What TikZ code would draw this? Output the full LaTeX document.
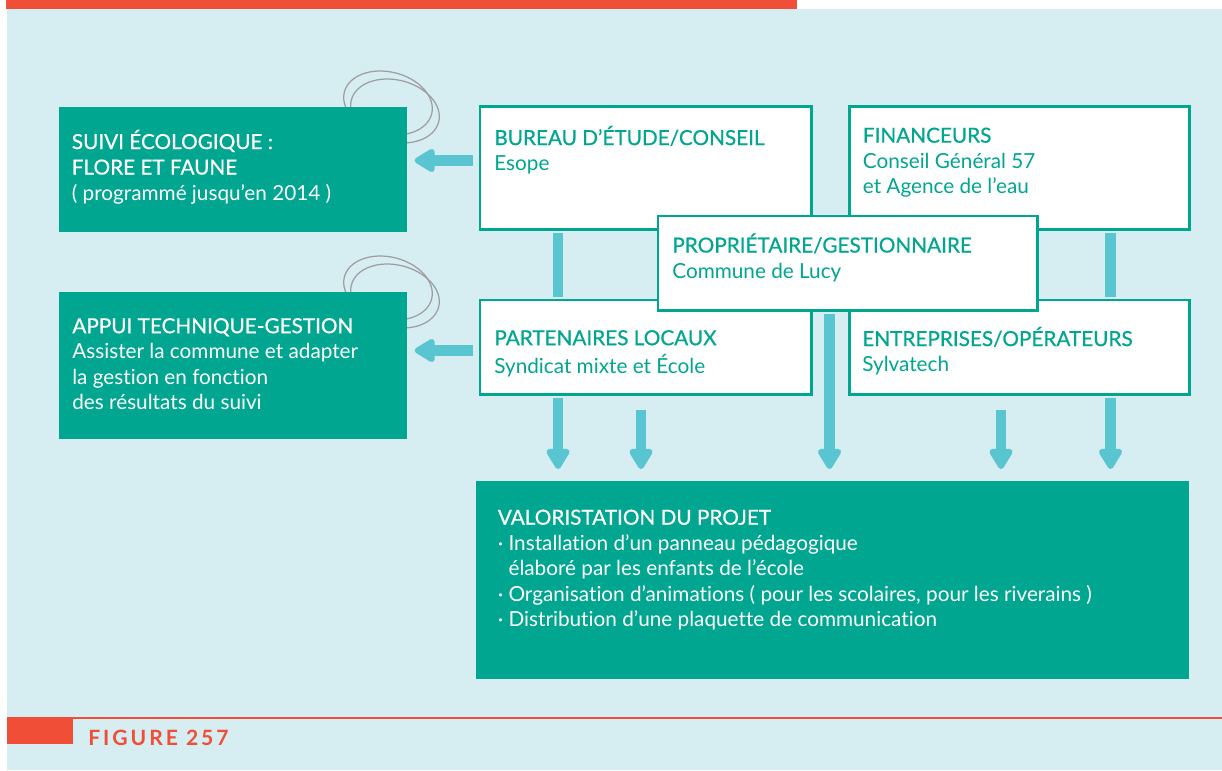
\documentclass[tikz,border=0pt]{standalone}
\usepackage{fontspec}
\setmainfont{Lato}[Ligatures={NoCommon}]
\newfontfamily\headfont{Lato}[FakeBold=0.6, Ligatures={NoCommon}]
\newfontfamily\figfont{Lato}[LetterSpace=14]
\usetikzlibrary{
    arrows.meta,
    positioning,
    calc
}
\definecolor{vert}{RGB}{0,166,143}
\definecolor{cyanf}{RGB}{88,197,208}
\definecolor{fond}{RGB}{214,237,242}
\definecolor{rouge}{RGB}{240,78,55}
\definecolor{gris}{RGB}{158,158,158}

\begin{document}
\begin{tikzpicture}[
    x=0.02cm, y=-0.02cm,
    greenbox/.style={rectangle, fill=vert, anchor=north west, inner sep=0},
    whitebox/.style={rectangle, draw=vert, line width=1.7pt, fill=white, anchor=north west, inner sep=0},
    txt/.style={anchor=north west, inner sep=0, align=left, text=vert, font=\fontsize{11.8}{14.5}\selectfont},
    wtxt/.style={txt, text=white},
    link/.style={draw=cyanf, line width=0.21cm},
    flow/.style={link, -{Triangle[length=0.46cm, width=0.52cm, round]}},
    spire/.style={draw=gris, line width=0.7pt}
]
\useasboundingbox (0,0) rectangle (1222,770);
\fill[white] (0,0) rectangle (1222,770);
\fill[fond] (7,9) rectangle (1222,770);
\fill[rouge] (6,0) rectangle (797,9);

% loops behind the green boxes
\foreach \dy in {0,185} {
    \draw[spire, rotate around={-14:(388,103+\dy)}] (388,103+\dy) ellipse [x radius=45, y radius=31];
    \draw[spire, rotate around={-14:(395,111+\dy)}] (395,111+\dy) ellipse [x radius=45, y radius=31];
}

% left column
\node[greenbox, minimum width=6.96cm, minimum height=2.5cm] (suivi) at (59,107) {};
\node[greenbox, minimum width=6.96cm, minimum height=2.94cm] (appui) at (59,292) {};

% actors
\node[whitebox, minimum width=6.64cm, minimum height=2.46cm] (bureau) at (478.5,105.5) {};
\node[whitebox, minimum width=6.82cm, minimum height=2.46cm] (finan) at (847.5,105.5) {};
\node[whitebox, minimum width=6.64cm, minimum height=1.9cm] (parten) at (478.5,298.5) {};
\node[whitebox, minimum width=6.82cm, minimum height=1.9cm] (entrep) at (847.5,298.5) {};
\node[whitebox, minimum width=7.6cm, minimum height=1.9cm] (proprio) at (656.5,214.5) {};

% result
\node[greenbox, minimum width=14.26cm, minimum height=3.96cm] (valo) at (476,481) {};

% columns of the connectors
\coordinate (c1) at (558,0);
\coordinate (c3) at (829.5,0);
\coordinate (c5) at (1110.5,0);
\coordinate (s2) at (641,410);
\coordinate (s4) at (1001,410);
\coordinate (g1) at (0,160.5);
\coordinate (g2) at (0,350.5);

% connectors
\draw[link, shorten <=0.85pt, shorten >=0.85pt] (bureau.south -| c1) -- (parten.north -| c1);
\draw[link, shorten <=0.85pt, shorten >=0.85pt] (finan.south -| c5) -- (entrep.north -| c5);
\draw[flow, shorten <=0.85pt, shorten >=0.24cm] (parten.south -| c1) -- (valo.north -| c1);
\draw[flow, shorten >=0.24cm] (s2) -- (valo.north -| s2);
\draw[flow, shorten <=0.85pt, shorten >=0.24cm] (proprio.south -| c3) -- (valo.north -| c3);
\draw[flow, shorten >=0.24cm] (s4) -- (valo.north -| s4);
\draw[flow, shorten <=0.85pt, shorten >=0.24cm] (entrep.south -| c5) -- (valo.north -| c5);
\draw[flow, shorten <=0.11cm, shorten >=0.14cm] (bureau.west |- g1) -- (suivi.east |- g1);
\draw[flow, shorten <=0.11cm, shorten >=0.14cm] (parten.west |- g2) -- (appui.east |- g2);

% texts
\node[wtxt] (suiviT) at ([shift={(12.5,22.5)}]suivi.north west)
    {\strut{\headfont SUIVI ÉCOLOGIQUE :}\\{\headfont FLORE ET FAUNE}\\( programmé jusqu’en 2014 )};
\node[wtxt] (appuiT) at ([shift={(13,23)}]appui.north west)
    {\strut{\headfont APPUI TECHNIQUE-GESTION}\\Assister la commune et adapter\\la gestion en fonction\\des résultats du suivi};
\node[txt] (bureauT) at ([shift={(15.5,20)}]bureau.north west)
    {\strut{\headfont BUREAU D’ÉTUDE/CONSEIL}\\Esope};
\node[txt] (finanT) at ([shift={(15,19)}]finan.north west)
    {\strut{\headfont FINANCEURS}\\Conseil Général 57\\et Agence de l’eau};
\node[txt] (proprioT) at ([shift={(15.5,18.5)}]proprio.north west)
    {\strut{\headfont PROPRIÉTAIRE/GESTIONNAIRE}\\Commune de Lucy};
\node[txt] (partenT) at ([shift={(15.5,28.5)}]parten.north west)
    {\strut{\headfont PARTENAIRES LOCAUX}\\Syndicat mixte et École};
\node[txt] (entrepT) at ([shift={(14.5,28)}]entrep.north west)
    {\strut{\headfont ENTREPRISES/OPÉRATEURS}\\Sylvatech};
\node[wtxt] (valoT) at ([shift={(21.5,25.5)}]valo.north west)
    {\strut{\headfont VALORISTATION DU PROJET}\\
     · Installation d’un panneau pédagogique\\
     \hphantom{· }élaboré par les enfants de l’école\\
     · Organisation d’animations ( pour les scolaires, pour les riverains )\\
     · Distribution d’une plaquette de communication};

% figure caption
\fill[rouge] (7,717) rectangle (73,744);
\draw[rouge, line width=1pt] (73,718) -- (1222,718);
\node[anchor=base west, inner sep=0, text=rouge, font=\fontsize{12}{14}\figfont\bfseries] (fig) at (88,745) {FIGURE 257};
\end{tikzpicture}
\end{document}
